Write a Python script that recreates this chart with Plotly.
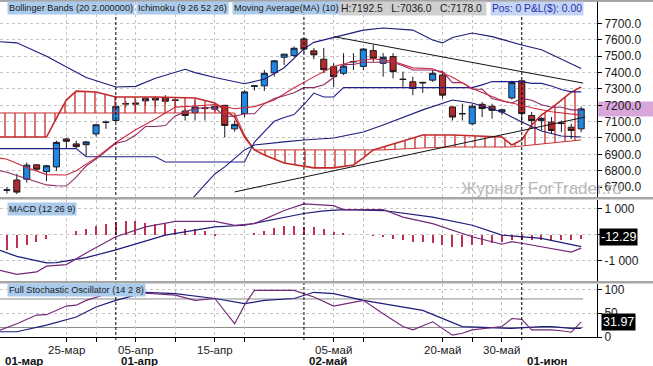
import plotly.graph_objects as go

W, H = 653, 366

# ---------------- data ----------------
candle_idx = list(range(59))
opens = [6680, 6743, 6748, 6836, 6794, 6823, 6994, 6964, 6959, 7025,
         7095, 7107, 7208, 7214, 7227, 7243, 7245, 7233, 7165, 7155,
         7180, 7176, 7200, 7056, 7149, 7316, 7319, 7399, 7494, 7504,
         7606, 7533, 7482, 7436, 7396, 7465, 7438, 7535, 7457, 7498,
         7360, 7344, 7336, 7354, 7385, 7190, 7150, 7087, 7206, 7194,
         7159, 7245, 7350, 7138, 7106, 7097, 7088, 7066, 7056]
highs = [6700, 6780, 6850, 6840, 6836, 6984, 7000, 6984, 6980, 7085,
         7107, 7200, 7227, 7237, 7250, 7253, 7262, 7243, 7181, 7231,
         7200, 7200, 7200, 7107, 7293, 7323, 7416, 7478, 7513, 7560,
         7612, 7550, 7550, 7457, 7519, 7519, 7550, 7570, 7519, 7519,
         7406, 7375, 7344, 7416, 7406, 7195, 7210, 7210, 7220, 7210,
         7180, 7350, 7350, 7159, 7128, 7128, 7107, 7087, 7192.5]
lows = [6660, 6657, 6727, 6799, 6737, 6799, 6939, 6939, 6891, 7009,
        7056, 7100, 7186, 7159, 7200, 7192, 7210, 7188, 7107, 7107,
        7107, 7160, 7004, 7039, 7128, 7290, 7288, 7375, 7447, 7495,
        7519, 7482, 7396, 7313, 7385, 7416, 7416, 7467, 7375, 7365,
        7313, 7262, 7276, 7344, 7241, 7107, 7107, 7077, 7128, 7118,
        7140, 7235, 7097, 7056, 7046, 7025, 7036, 6994, 7036]
closes = [6683, 6669, 6834, 6809, 6830, 6973, 6980, 6947, 6976, 7081,
          7097, 7194, 7210, 7208, 7241, 7232, 7225, 7230, 7138, 7190,
          7183, 7194, 7077, 7083, 7282, 7319, 7396, 7472, 7513, 7549,
          7544, 7509, 7418, 7375, 7440, 7468, 7544, 7488, 7494, 7406,
          7358, 7303, 7340, 7396, 7262, 7128, 7148, 7194, 7180, 7169,
          7173, 7340, 7149, 7107, 7120, 7046, 7091, 7046, 7178]

# Bollinger Bands (20, 2)
bbu_x = [-1, 1, 4, 8, 11, 13, 15, 18, 19, 21, 24, 26, 28, 29, 30, 31, 33, 36,
         38, 41, 43, 44, 45, 47, 49, 52, 54, 56, 58]
bbu_v = [7590, 7582, 7500, 7370, 7312, 7316, 7365, 7420, 7400, 7370, 7332, 7360,
         7430, 7490, 7545, 7585, 7615, 7660, 7673, 7660, 7600, 7582, 7615, 7642,
         7620, 7569, 7540, 7480, 7425]
bbl_x = [18, 19, 20, 21, 22, 24, 25, 28, 30, 33, 36, 38, 42, 45, 47, 50, 52, 54, 56, 58]
bbl_v = [6580, 6650, 6715, 6780, 6823, 6927, 6957, 6976, 6988, 7000, 7037, 7080,
         7172, 7232, 7214, 7159, 7098, 7043, 7012, 7006]

# Ichimoku (9 26 52 26)
line_idx = list(range(-1, 59))
kijun = [6935] * 9 + [6885] * 8 + [6853] * 9 + \
        [6975, 7036, 7102, 7125, 7143, 7205, 7275, 7251, 7251] + \
        [7308] * 14 + [7325] + [7345] * 4 + [7334] * 2 + [7318, 7297, 7282, 7282]
tenkan = [6804, 6790, 6770, 6750, 6730, 6713, 6708, 6706, 6760, 6829,
          6871, 6917, 6968, 6982, 7018, 7070, 7070, 7076, 7135, 7159,
          7181, 7185, 7185, 7133, 7133, 7148, 7148, 7210, 7241, 7259,
          7277, 7308, 7308, 7326, 7370, 7450, 7450, 7463, 7463, 7463,
          7463, 7442, 7416, 7416, 7416, 7406, 7339, 7339, 7298, 7298,
          7242, 7226, 7214, 7242, 7231, 7203, 7188, 7188, 7172, 7172]
cloud_x = [-1, 4, 5, 6, 7, 9, 11, 15, 19, 21, 23, 24, 25, 26, 28, 31, 33, 35, 36,
           37, 38, 42, 45, 50, 51, 52, 53, 54, 55, 56, 57, 58]
span_a = [7006, 7006, 7122, 7232, 7287, 7281, 7251, 7251, 7245, 7214, 7128, 7006,
          6927, 6896, 6847, 6817, 6817, 6835, 6878, 6927, 6945, 7018, 7018, 7006,
          6957, 6988, 7080, 7141, 7183, 7232, 7281, 7312]
span_b = [7153, 7153, 7153, 7153, 7153, 7153, 7153, 7153, 7153, 7153, 7153, 7018,
          6927, 6927, 6927, 6927, 6927, 6927, 6927, 6927, 6927, 6939, 6945, 6945,
          6945, 6951, 6957, 6963, 6969, 6976, 6982, 6988]

# Moving Average (10)
ma_x = [-1, 0, 2, 4, 6, 7, 8, 9, 11, 13, 15, 17, 19, 21, 23, 25, 27, 29, 31, 33,
        35, 37, 39, 41, 43, 45, 47, 50, 53, 55, 58]
ma_v = [6880, 6870, 6820, 6776, 6774, 6800, 6840, 6878, 6972, 7050, 7116, 7189,
        7196, 7205, 7179, 7192, 7233, 7307, 7374, 7438, 7468, 7485, 7469, 7429,
        7424, 7372, 7303, 7229, 7185, 7161, 7140]

# hand-drawn trend lines
trend1_x = [33, 58.2]
trend1_v = [7620, 7336]
trend2_x = [23, 58.4]
trend2_v = [6670, 7128]

# MACD (12 26 9)
macd_hist = [-580, -505, -393, -270, -142, 0, 0, 168, 243, 355,
             430, 505, 542, 542, 479, 441, 419, 243, 243, 243,
             168, 56, 0, 0, 0, 93, 168, 280, 329, 355,
             318, 292, 243, 130, 93, 0, 0, -20, -40, -130,
             -205, -270, -270, -318, -393, -456, -456, -393, -367, -318,
             -270, -187, -190, -200, -190, -190, -200, -190, -150]
macd_x = [-1, 1, 3, 4, 6, 8, 11, 14, 17, 21, 23, 25, 28, 30, 33, 34, 38, 40, 43,
          47, 50, 51, 52, 55, 57, 58]
macd_v = [-1330, -1515, -1420, -1200, -1141, -700, -82, 292, 505, 505, 355, 419,
          916, 1167, 1103, 954, 954, 666, 419, -82, -367, -269, -329, -516, -666, -516]
signal_x = [-1, 1, 4, 5, 8, 11, 16, 21, 24, 30, 32, 34, 38, 43, 47, 50, 54, 58]
signal_v = [-560, -830, -1077, -1070, -879, -580, -19, 292, 355, 804, 900, 954,
            916, 666, 355, -19, -142, -456]
macd_last = -12.29

# Full Stochastic Oscillator (14 2 8)
stk_x = [-1, 1, 3, 4, 6, 7, 8, 10, 12, 14, 17, 19, 21, 23, 24, 25, 29, 31, 33,
         36, 38, 40, 41, 43, 45, 46, 47, 50, 51, 52, 53, 55, 56, 57, 58]
stk_v = [12, 28, 46, 47, 65, 67, 77, 90, 93, 92, 88, 77, 81, 28, 67, 98, 98, 84,
         65, 77, 49, 22, 15, 32, 4, 8, 15, 22, 39, 37, 15, 15, 13, 10, 31.97]
std_x = [-1, 1, 4, 7, 9, 11, 14, 17, 21, 24, 26, 29, 31, 33, 36, 42, 46, 50, 51,
         54, 55, 57, 58]
std_v = [11, 11, 25, 42, 63, 77, 94, 91, 81, 70, 77, 81, 94, 91, 77, 56, 22, 20,
         18, 22, 22, 18, 18]
stoch_last = 31.97
stoch_levels = [20, 80]

# axis ticks
price_ticks = [6700, 6800, 6900, 7000, 7100, 7200, 7300, 7400, 7500, 7600, 7700]
macd_ticks = [-1000, 0, 1000]
macd_ticktext = ["-1 000", "0", "1 000"]
stoch_ticks = [0, 50, 100]
date_tick_idx = [6, 9, 13, 17, 21, 24, 33, 36, 44, 47, 50]
date_tick_text = ["25-мар", "", "05-апр", "", "15-апр", "", "05-май", "", "20-май", "", "30-май"]
month_idx = [0, 11, 30, 52]
month_text = ["01-мар", "01-апр", "02-май", "01-июн"]
month_line_idx = [11, 30, 52]

# ---------------- layout helpers ----------------
def yp(px):
    return 1 - px / H

XR = 597 / W
XRANGE = [-0.7, 59.6]
FONT = "Liberation Sans, Arial, sans-serif"
NAVY = "#1c1c7c"
PURPLE = "#74287a"
GRID = "#c4c4c4"

fig = go.Figure()

# Ichimoku cloud
fig.add_trace(go.Scatter(x=cloud_x, y=span_b, mode="lines",
                         line=dict(color="#c83232", width=1), xaxis="x", yaxis="y"))
fig.add_trace(go.Scatter(x=cloud_x, y=span_a, mode="lines",
                         line=dict(color="#c42828", width=1.6), fill="tonexty",
                         fillcolor="rgba(0,0,0,0)",
                         fillpattern=dict(shape="|", fgcolor="#cc3a3a",
                                          bgcolor="rgba(255,255,255,0)",
                                          size=10, solidity=0.14, fillmode="replace"),
                         xaxis="x", yaxis="y"))
# Bollinger
fig.add_trace(go.Scatter(x=bbu_x, y=bbu_v, mode="lines", line=dict(color=NAVY, width=1.1),
                         xaxis="x", yaxis="y"))
fig.add_trace(go.Scatter(x=bbl_x, y=bbl_v, mode="lines", line=dict(color=NAVY, width=1.1),
                         xaxis="x", yaxis="y"))
# Kijun / Tenkan / MA
fig.add_trace(go.Scatter(x=line_idx, y=kijun, mode="lines", line=dict(color="#20208c", width=1.1),
                         xaxis="x", yaxis="y"))
fig.add_trace(go.Scatter(x=line_idx, y=tenkan, mode="lines", line=dict(color="#8e2a66", width=1.1),
                         xaxis="x", yaxis="y"))
fig.add_trace(go.Scatter(x=ma_x, y=ma_v, mode="lines", line=dict(color="#d0283c", width=1.1),
                         xaxis="x", yaxis="y"))
# trend lines
fig.add_trace(go.Scatter(x=trend1_x, y=trend1_v, mode="lines", line=dict(color="#111111", width=1),
                         xaxis="x", yaxis="y"))
fig.add_trace(go.Scatter(x=trend2_x, y=trend2_v, mode="lines", line=dict(color="#111111", width=1),
                         xaxis="x", yaxis="y"))
# candles
fig.add_trace(go.Candlestick(
    x=candle_idx, open=opens, high=highs, low=lows, close=closes,
    increasing=dict(fillcolor="#1f88e0", line=dict(color="#1a1a2a", width=1)),
    decreasing=dict(fillcolor="#b42a2c", line=dict(color="#1a1a1a", width=1)),
    whiskerwidth=0, xaxis="x", yaxis="y"))

# MACD panel
fig.add_trace(go.Bar(x=candle_idx, y=macd_hist, width=0.13,
                     marker=dict(color="#c03050", line=dict(width=0)),
                     xaxis="x2", yaxis="y2"))
fig.add_trace(go.Scatter(x=signal_x, y=signal_v, mode="lines", line=dict(color=NAVY, width=1.2),
                         xaxis="x2", yaxis="y2"))
fig.add_trace(go.Scatter(x=macd_x, y=macd_v, mode="lines", line=dict(color=PURPLE, width=1.2),
                         xaxis="x2", yaxis="y2"))

# Stochastic panel
fig.add_trace(go.Scatter(x=std_x, y=std_v, mode="lines", line=dict(color=NAVY, width=1.2),
                         xaxis="x3", yaxis="y3"))
fig.add_trace(go.Scatter(x=stk_x, y=stk_v, mode="lines", line=dict(color=PURPLE, width=1.1),
                         xaxis="x3", yaxis="y3"))

xcommon = dict(range=XRANGE, autorange=False, domain=[0, XR], tickmode="array",
               tickvals=date_tick_idx, showticklabels=False,
               showgrid=True, gridcolor=GRID, griddash="3px,3px", gridwidth=1,
               zeroline=False, fixedrange=True, automargin=False)
ycommon = dict(side="right", showline=True, linecolor="#000000", linewidth=1,
               ticks="outside", ticklen=4, tickcolor="#000000", zeroline=False,
               showgrid=True, gridcolor=GRID, griddash="3px,3px", gridwidth=1,
               autorange=False, automargin=False,
               tickfont=dict(family=FONT, size=12, color="#1a1a1a"), fixedrange=True)

shapes = []
# stochastic level lines
for lv in stoch_levels:
    shapes.append(dict(type="line", xref="x3", yref="y3", x0=XRANGE[0], x1=58.2, y0=lv, y1=lv,
                       line=dict(color="#8c8c8c", width=1), layer="below"))
# month separators
for mi in month_line_idx:
    shapes.append(dict(type="line", xref="x", yref="paper", x0=mi, x1=mi,
                       y0=yp(340), y1=yp(2), line=dict(color="#000000", width=1, dash="3px,2px")))
# panel separators and top border
for a, b in [(197, 199.5), (281, 283.5), (0, 2)]:
    shapes.append(dict(type="rect", xref="paper", yref="paper", x0=0, x1=1, y0=yp(b), y1=yp(a),
                       fillcolor="#a6a6a6", line=dict(width=0)))
# current price marker
shapes.append(dict(type="rect", xref="paper", yref="y", x0=XR + 0.002, x1=1,
                   y0=closes[-1] - 46, y1=closes[-1] + 46,
                   fillcolor="#d9a6d9", line=dict(width=0), layer="below"))

LB = "#abcbed"
ann = []
def box(text, xpx, ypx, bg, color="#1a1a1a", size=9.2):
    ann.append(dict(text=text, xref="paper", yref="paper", x=xpx / W, y=yp(ypx),
                    xanchor="left", yanchor="middle", showarrow=False, bgcolor=bg,
                    borderpad=1, font=dict(family=FONT, size=size, color=color)))

box("Bollinger Bands (20 2.000000)", 7, 8.5, LB)
box("Ichimoku (9 26 52 26)", 136, 8.5, LB)
box("Moving Average(MA) (10)", 232, 8.5, LB)
box("H:7192.5&nbsp;&nbsp;&nbsp;L:7036.0&nbsp;&nbsp;&nbsp;C:7178.0&nbsp;", 339, 8.5, "#cfcfcf", size=10.3)
box("Pos: 0 P&L($): 0.00", 490, 8.5, "#c4d4f2", color="#2630b0", size=10.3)
box("MACD (12 26 9)", 7, 208.5, LB)
box("Full Stochastic Oscillator (14 2 8)", 7, 290, LB)

# value boxes
ann.append(dict(text="-12.29", xref="paper", yref="y2", x=(599) / W, y=macd_last,
                xanchor="left", yanchor="middle", yshift=-2, showarrow=False,
                bgcolor="#000000", borderpad=1, font=dict(family=FONT, size=12.5, color="#ffffff")))
ann.append(dict(text="31.97", xref="paper", yref="y3", x=(601) / W, y=stoch_last,
                xanchor="left", yanchor="middle", showarrow=False,
                bgcolor="#000000", borderpad=1, font=dict(family=FONT, size=12.5, color="#ffffff")))
# date labels (first row)
for ti, tt in zip(date_tick_idx, date_tick_text):
    if tt:
        ann.append(dict(text=tt, xref="x3", yref="paper", x=ti, y=yp(349.5),
                        xanchor="center", yanchor="middle", showarrow=False,
                        font=dict(family=FONT, size=11.5, color="#1a1a1a")))
# month labels (second row)
for mi, mt in zip(month_idx, month_text):
    ann.append(dict(text="<b>" + mt + "</b>", xref="x3", yref="paper", x=mi, y=yp(360.5),
                    xanchor="left", yanchor="middle", xshift=3 if mi else -4, showarrow=False,
                    font=dict(family=FONT, size=11.5, color="#111111")))
# watermark
ann.append(dict(text="Журнал ForTrader.ru", xref="paper", yref="paper", x=541 / W, y=yp(188),
                xanchor="center", yanchor="middle", showarrow=False,
                font=dict(family=FONT, size=17, color="#b9b9b9")))

fig.update_layout(
    width=W, height=H, margin=dict(l=0, r=0, t=0, b=0, pad=0, autoexpand=False),
    paper_bgcolor="#ffffff", plot_bgcolor="#ffffff",
    showlegend=False, hovermode=False, bargap=0, boxgap=0.12,
    xaxis=dict(**xcommon, anchor="y", ticks="", rangeslider=dict(visible=False)),
    xaxis2=dict(**xcommon, anchor="y2", ticks=""),
    xaxis3=dict(**xcommon, anchor="y3",
                ticks="outside", ticklen=4, tickcolor="#000000",
                showline=True, linecolor="#000000", linewidth=1),
    yaxis=dict(**ycommon, domain=[yp(197), yp(2)], range=[6639, 7832], anchor="x",
               tickmode="array", tickvals=price_ticks,
               ticktext=[f"{v:.1f}" for v in price_ticks]),
    yaxis2=dict(**ycommon, domain=[yp(281), yp(199.5)], range=[-1766, 1336], anchor="x2",
                tickmode="array", tickvals=macd_ticks, ticktext=macd_ticktext),
    yaxis3=dict(**ycommon, domain=[yp(337), yp(283.5)], range=[0, 112.5], anchor="x3",
                tickmode="array", tickvals=stoch_ticks),
    shapes=shapes, annotations=ann,
)

fig.write_html("out.html", config={"displayModeBar": False},
               post_script="document.body.style.margin='0px';document.body.style.padding='0px';")
